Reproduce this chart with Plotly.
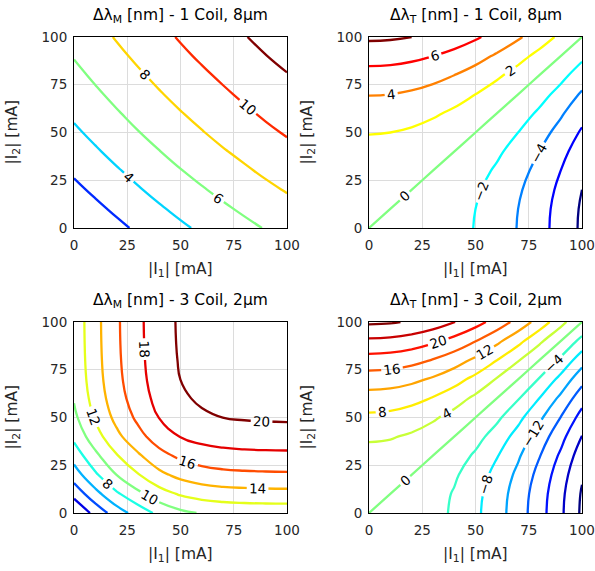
import plotly.graph_objects as go

# ---------------- data ----------------
I1 = [0, 10, 20, 30, 40, 50, 60, 70, 80, 90, 100]   # |I1| [mA]
I2 = [0, 10, 20, 30, 40, 50, 60, 70, 80, 90, 100]   # |I2| [mA]
TICKS = [0, 25, 50, 75, 100]

# d lambda_M [nm] - 1 Coil, 8um   (rows: I2, cols: I1)
dLM_1coil = [
    [0.00, 0.79, 1.56, 2.29, 3.00, 3.68, 4.32, 4.94, 5.53, 6.10, 6.63],
    [0.79, 1.58, 2.34, 3.07, 3.78, 4.45, 5.09, 5.71, 6.30, 6.86, 7.39],
    [1.56, 2.34, 3.11, 3.83, 4.54, 5.21, 5.84, 6.46, 7.04, 7.61, 8.13],
    [2.29, 3.07, 3.83, 4.55, 5.25, 5.93, 6.56, 7.17, 7.75, 8.31, 8.83],
    [3.00, 3.78, 4.54, 5.25, 5.95, 6.62, 7.25, 7.86, 8.43, 8.99, 9.51],
    [3.68, 4.46, 5.21, 5.93, 6.62, 7.29, 7.91, 8.52, 9.09, 9.65, 10.16],
    [4.32, 5.09, 5.84, 6.56, 7.25, 7.91, 8.53, 9.13, 9.71, 10.26, 10.77],
    [4.94, 5.71, 6.46, 7.17, 7.86, 8.52, 9.13, 9.73, 10.30, 10.85, 11.36],
    [5.53, 6.30, 7.04, 7.75, 8.43, 9.09, 9.71, 10.30, 10.87, 11.41, 11.92],
    [6.10, 6.86, 7.61, 8.31, 8.99, 9.65, 10.26, 10.85, 11.41, 11.96, 12.46],
    [6.63, 7.39, 8.13, 8.83, 9.51, 10.16, 10.77, 11.36, 11.92, 12.46, 12.96],
]

# d lambda_T [nm] - 1 Coil, 8um
dLT_1coil = [
    [0.00, -0.08, -0.33, -0.75, -1.33, -2.08, -3.00, -4.08, -5.33, -6.75, -8.33],
    [0.08, 0.00, -0.25, -0.67, -1.25, -2.00, -2.92, -4.00, -5.25, -6.67, -8.25],
    [0.33, 0.25, 0.00, -0.42, -1.00, -1.75, -2.67, -3.75, -5.00, -6.42, -8.00],
    [0.75, 0.67, 0.42, 0.00, -0.58, -1.33, -2.25, -3.33, -4.58, -6.00, -7.58],
    [1.33, 1.25, 1.00, 0.58, 0.00, -0.75, -1.67, -2.75, -4.00, -5.42, -7.00],
    [2.08, 2.00, 1.75, 1.33, 0.75, 0.00, -0.92, -2.00, -3.25, -4.67, -6.25],
    [3.00, 2.92, 2.67, 2.25, 1.67, 0.92, 0.00, -1.08, -2.33, -3.75, -5.33],
    [4.08, 4.00, 3.75, 3.33, 2.75, 2.00, 1.08, 0.00, -1.25, -2.67, -4.25],
    [5.33, 5.25, 5.00, 4.58, 4.00, 3.25, 2.33, 1.25, 0.00, -1.42, -3.00],
    [6.75, 6.67, 6.42, 6.00, 5.42, 4.67, 3.75, 2.67, 1.42, 0.00, -1.58],
    [8.33, 8.25, 8.00, 7.58, 7.00, 6.25, 5.33, 4.25, 3.00, 1.58, 0.00],
]

# d lambda_M [nm] - 3 Coil, 2um
dLM_3coil = [
    [0.00, 2.67, 5.01, 6.85, 8.50, 9.55, 10.15, 10.46, 10.60, 10.67, 10.70],
    [2.67, 5.34, 7.68, 9.52, 11.17, 12.22, 12.82, 13.13, 13.27, 13.34, 13.37],
    [5.01, 7.68, 10.02, 11.86, 13.51, 14.56, 15.16, 15.47, 15.61, 15.68, 15.71],
    [6.85, 9.52, 11.86, 13.70, 15.35, 16.40, 17.00, 17.31, 17.45, 17.52, 17.55],
    [8.50, 11.17, 13.51, 15.35, 17.00, 18.05, 18.65, 18.96, 19.10, 19.17, 19.20],
    [9.55, 12.22, 14.56, 16.40, 18.05, 19.10, 19.70, 20.01, 20.15, 20.22, 20.25],
    [10.15, 12.82, 15.16, 17.00, 18.65, 19.70, 20.30, 20.61, 20.75, 20.82, 20.85],
    [10.46, 13.13, 15.47, 17.31, 18.96, 20.01, 20.61, 20.92, 21.06, 21.13, 21.16],
    [10.60, 13.27, 15.61, 17.45, 19.10, 20.15, 20.75, 21.06, 21.20, 21.27, 21.30],
    [10.67, 13.34, 15.68, 17.52, 19.17, 20.22, 20.82, 21.13, 21.27, 21.34, 21.37],
    [10.70, 13.37, 15.71, 17.55, 19.20, 20.25, 20.85, 21.16, 21.30, 21.37, 21.40],
]

# d lambda_T [nm] - 3 Coil, 2um
dLT_3coil = [
    [0.00, -0.29, -1.15, -2.58, -4.59, -7.18, -10.33, -14.06, -18.37, -23.25, -28.70],
    [0.29, 0.00, -0.86, -2.30, -4.31, -6.89, -10.05, -13.78, -18.08, -22.96, -28.41],
    [1.15, 0.86, 0.00, -1.44, -3.44, -6.03, -9.18, -12.92, -17.22, -22.10, -27.55],
    [2.58, 2.30, 1.44, 0.00, -2.01, -4.59, -7.75, -11.48, -15.79, -20.66, -26.12],
    [4.59, 4.31, 3.44, 2.01, 0.00, -2.58, -5.74, -9.47, -13.78, -18.66, -24.11],
    [7.18, 6.89, 6.03, 4.59, 2.58, 0.00, -3.16, -6.89, -11.19, -16.07, -21.53],
    [10.33, 10.05, 9.18, 7.75, 5.74, 3.16, 0.00, -3.73, -8.04, -12.92, -18.37],
    [14.06, 13.78, 12.92, 11.48, 9.47, 6.89, 3.73, 0.00, -4.31, -9.18, -14.64],
    [18.37, 18.08, 17.22, 15.79, 13.78, 11.19, 8.04, 4.31, 0.00, -4.88, -10.33],
    [23.25, 22.96, 22.10, 20.66, 18.66, 16.07, 12.92, 9.18, 4.88, 0.00, -5.45],
    [28.70, 28.41, 27.55, 26.12, 24.11, 21.53, 18.37, 14.64, 10.33, 5.45, 0.00],
]

TITLES = [
    "Δλ<sub>M</sub> [nm] - 1 Coil, 8μm",
    "Δλ<sub>T</sub> [nm] - 1 Coil, 8μm",
    "Δλ<sub>M</sub> [nm] - 3 Coil, 2μm",
    "Δλ<sub>T</sub> [nm] - 3 Coil, 2μm",
]
XLABEL = "|I<sub>1</sub>| [mA]"
YLABEL = "|I<sub>2</sub>| [mA]"

# contour levels (start, end, step) and colour limits
LEVELS = [(2, 12, 2), (-8, 8, 2), (2, 20, 2), (-28, 28, 4)]
CLIMS = [(0, 12), (-8, 8), (0, 20), (-28, 28)]

# ---------------- styling ----------------
FONT = "DejaVu Sans, Liberation Sans, Arial, sans-serif"


def jet(t):
    t = min(max(t, 0.0), 1.0)
    r = min(max(min(4 * t - 1.5, -4 * t + 4.5), 0), 1)
    g = min(max(min(4 * t - 0.5, -4 * t + 3.5), 0), 1)
    b = min(max(min(4 * t + 0.5, -4 * t + 2.5), 0), 1)
    return "rgb(%d,%d,%d)" % (round(r * 255), round(g * 255), round(b * 255))


def level_scale(lev, clim):
    s, e, d = lev
    n = int(round((e - s) / d))
    out = []
    for k in range(n + 1):
        v = s + k * d
        out.append([k / n, jet((v - clim[0]) / (clim[1] - clim[0]))])
    return out


W, H = 595, 571
XD = [(74 / W, 287 / W), (369 / W, 582 / W)]
YD = [(1 - 228 / H, 1 - 37 / H), (1 - 513 / H, 1 - 322 / H)]

fig = go.Figure()
data = [dLM_1coil, dLT_1coil, dLM_3coil, dLT_3coil]
layout_axes = {}
annotations = []
for p in range(4):
    row, col = divmod(p, 2)
    sfx = "" if p == 0 else str(p + 1)
    lev = LEVELS[p]
    fig.add_trace(go.Contour(
        x=I1, y=I2, z=data[p],
        xaxis="x" + sfx, yaxis="y" + sfx,
        autocontour=False,
        contours=dict(start=lev[0], end=lev[1], size=lev[2], coloring="lines",
                      showlabels=True,
                      labelfont=dict(family=FONT, size=13.5, color="black")),
        colorscale=level_scale(lev, CLIMS[p]),
        line=dict(width=2.3, smoothing=1.3),
        showscale=False, hoverinfo="skip",
    ))
    common = dict(range=[0, 100], tickvals=TICKS,
                  showgrid=True, gridcolor="#dcdcdc", gridwidth=1,
                  showline=True, linecolor="black", linewidth=1, mirror=True,
                  zeroline=False, ticks="outside", tickcolor="rgba(0,0,0,0)",
                  tickfont=dict(family=FONT, size=13.5, color="#262626"),
                  automargin=False)
    layout_axes["xaxis" + sfx] = dict(common, domain=list(XD[col]), anchor="y" + sfx, ticklen=5)
    layout_axes["yaxis" + sfx] = dict(common, domain=list(YD[row]), anchor="x" + sfx, ticklen=3)

    cx = (XD[col][0] + XD[col][1]) / 2
    top = YD[row][1]
    bot = YD[row][0]
    annotations.append(dict(text=TITLES[p], x=cx, y=top + 21 / H, xref="paper", yref="paper",
                            xanchor="center", yanchor="middle", showarrow=False,
                            font=dict(family=FONT, size=15.5, color="black")))
    annotations.append(dict(text=XLABEL, x=cx, y=bot - 42 / H, xref="paper", yref="paper",
                            xanchor="center", yanchor="middle", showarrow=False,
                            font=dict(family=FONT, size=15.5, color="#262626")))
    annotations.append(dict(text=YLABEL, x=XD[col][0] - 61 / W, y=(top + bot) / 2,
                            xref="paper", yref="paper", textangle=-90,
                            xanchor="center", yanchor="middle", showarrow=False,
                            font=dict(family=FONT, size=15.5, color="#262626")))

fig.update_layout(width=W, height=H, margin=dict(l=0, r=0, t=0, b=0, autoexpand=False),
                  paper_bgcolor="white", plot_bgcolor="white",
                  showlegend=False, annotations=annotations, **layout_axes)

fig.write_html("out.html", config={"displayModeBar": False},
               post_script="document.body.style.margin='0px';")
